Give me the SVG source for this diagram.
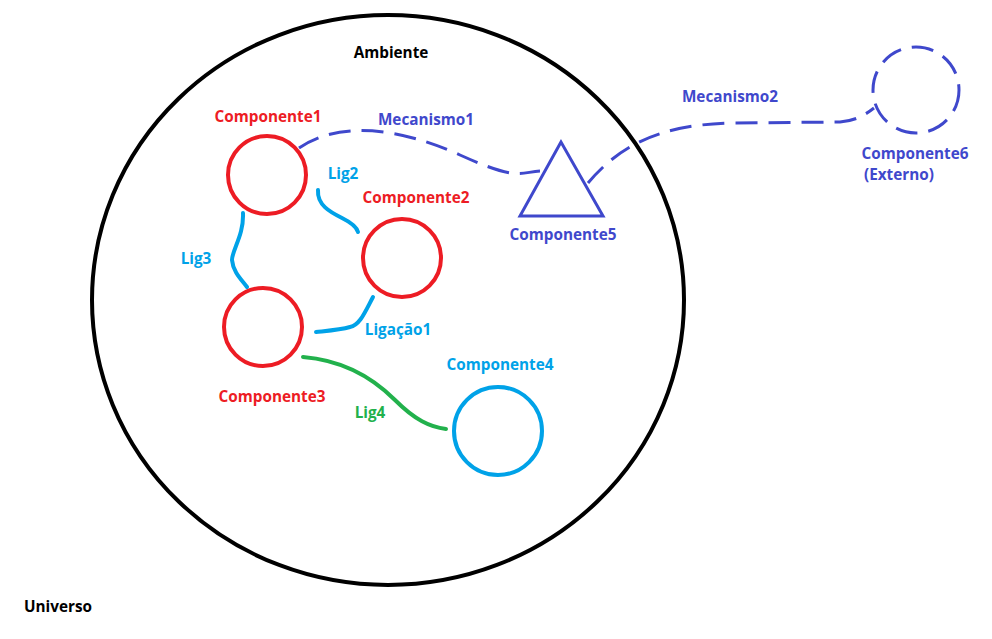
<svg xmlns="http://www.w3.org/2000/svg" width="992" height="639" viewBox="0 0 992 639">
<style>
text{font-family:"Open Sans","DejaVu Sans",sans-serif;font-weight:bold;font-size:15.3px;text-anchor:middle}
.k{fill:#000}.r{fill:#ed1c24}.b{fill:#00a2e8}.p{fill:#3f48cc}.g{fill:#22b14c}
.cr{fill:none;stroke:#ed1c24;stroke-width:4}
.cb{fill:none;stroke:#00a2e8;stroke-width:4}
.lb{fill:none;stroke:#00a2e8;stroke-width:4;stroke-linecap:round}
.lg{fill:none;stroke:#22b14c;stroke-width:4;stroke-linecap:round}
.dp{fill:none;stroke:#3f48cc;stroke-width:3;stroke-dasharray:22 11}
</style>
<rect width="992" height="639" fill="#fff"/>
<g id="universo"><text class="k" x="24" y="612" style="text-anchor:start">Universo</text></g>
<g id="ambiente">
<ellipse cx="388" cy="300" rx="296" ry="285" fill="none" stroke="#000" stroke-width="4"/>
<text class="k" x="391" y="58">Ambiente</text>
</g>
<g id="connectors">
<path class="dp" d="M299,148 C340,120 400,128 460,155 S520,172 540,171"/>
<path class="dp" d="M588,183 C620,145 660,125 730,123 L840,122 C855,121 865,115 874,108"/>
<path class="lb" d="M318,190 C317,205 330,212 342,218 C352,223 357,228 358,232"/>
<path class="lb" d="M243,213 C244,235 232,250 232,260 C233,272 242,280 247,287"/>
<path class="lb" d="M373,297 C365,312 360,325 350,327 C340,330 325,331 316,332"/>
<path class="lg" d="M303,357 C340,360 370,375 395,400 C415,420 430,427 446,429"/>
<text class="p" x="426" y="125">Mecanismo1</text>
<text class="p" x="730" y="102">Mecanismo2</text>
<text class="b" x="343" y="179">Lig2</text>
<text class="b" x="196" y="264">Lig3</text>
<text class="b" x="398" y="335">Ligação1</text>
<text class="g" x="370" y="418">Lig4</text>
</g>
<g id="componente1"><circle class="cr" cx="267" cy="175" r="39"/><text class="r" x="268" y="122">Componente1</text></g>
<g id="componente2"><circle class="cr" cx="402" cy="258" r="39"/><text class="r" x="416" y="203">Componente2</text></g>
<g id="componente3"><circle class="cr" cx="263" cy="327" r="39"/><text class="r" x="272" y="402">Componente3</text></g>
<g id="componente4"><circle class="cb" cx="498" cy="431" r="44"/><text class="b" x="500" y="370">Componente4</text></g>
<g id="componente5"><polygon points="561,142 520,216 603,216" fill="none" stroke="#3f48cc" stroke-width="3"/><text class="p" x="563" y="240">Componente5</text></g>
<g id="componente6"><circle class="dp" cx="916" cy="90" r="43"/><text class="p" x="915" y="159">Componente6</text><text class="p" x="864" y="180" style="text-anchor:start">(Externo)</text></g>
</svg>
